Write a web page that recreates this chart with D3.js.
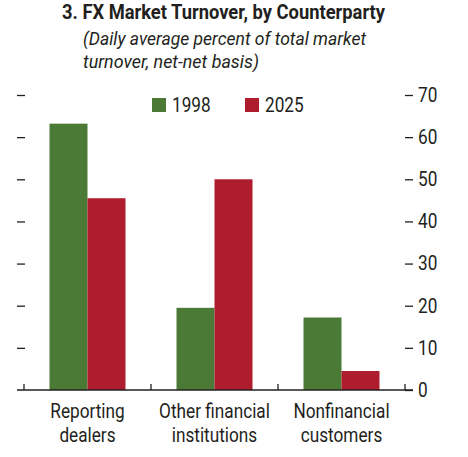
<!DOCTYPE html>
<html>
<head>
<meta charset="utf-8">
<script src="https://cdn.jsdelivr.net/npm/d3@7"></script>
<style>
  body { margin: 0; background: #fff; }
  text { font-family: Roboto, "Noto Sans", sans-serif; fill: #231f20; }
</style>
</head>
<body>
<div id="chart"></div>
<script>
// Data
const categories = ['Reporting dealers', 'Other financial institutions', 'Nonfinancial customers'];
const categoryLines = [['Reporting', 'dealers'], ['Other financial', 'institutions'], ['Nonfinancial', 'customers']];
const seriesNames = ['1998', '2025'];
const values1998 = [63.2, 19.5, 17.2];
const values2025 = [45.5, 50.0, 4.5];
const yTicks = [0, 10, 20, 30, 40, 50, 60, 70];

const colors = ['#4b7a37', '#ad1d2d'];
const width = 468;
const height = 457;
const margin = { top: 95, left: 24, bottom: 67, right: 63 };

// The source uses a condensed face; squeeze a normal one to fit
const squeeze = (sel, k) => sel.each(function () {
  const len = this.getComputedTextLength();
  d3.select(this).attr('textLength', len * k).attr('lengthAdjust', 'spacingAndGlyphs');
});

const svg = d3.select('#chart')
  .append('svg')
    .attr('width', width)
    .attr('height', height);

// Scales
const xScale = d3.scaleBand()
  .domain(categories)
  .range([margin.left, width - margin.right]);

const innerPad = 25.5;
const xSub = d3.scaleBand()
  .domain(seriesNames)
  .range([innerPad, xScale.bandwidth() - innerPad]);

const yScale = d3.scaleLinear()
  .domain([0, 70])
  .range([height - margin.bottom, margin.top]);

// Title
svg.append('text')
  .attr('x', 62)
  .attr('y', 19)
  .attr('textLength', 323)
  .attr('lengthAdjust', 'spacingAndGlyphs')
  .style('font-size', '20px')
  .style('font-weight', 'bold')
  .text('3. FX Market Turnover, by Counterparty');

svg.append('text')
  .attr('x', 83)
  .attr('y', 45)
  .attr('textLength', 283)
  .attr('lengthAdjust', 'spacingAndGlyphs')
  .style('font-size', '18px')
  .style('font-style', 'italic')
  .text('(Daily average percent of total market');
svg.append('text')
  .attr('x', 83)
  .attr('y', 68)
  .attr('textLength', 176)
  .attr('lengthAdjust', 'spacingAndGlyphs')
  .style('font-size', '18px')
  .style('font-style', 'italic')
  .text('turnover, net-net basis)');

// Bars
const rows = categories.map((c, i) => ({ cat: c, vals: [values1998[i], values2025[i]] }));

const groups = svg.selectAll('g.group')
  .data(rows)
  .join('g')
    .attr('class', 'group')
    .attr('transform', (d) => `translate(${xScale(d.cat)},0)`);

groups.selectAll('rect')
  .data((d) => d.vals.map((v, j) => ({ name: seriesNames[j], value: v, j })))
  .join('rect')
    .attr('x', (d) => xSub(d.name))
    .attr('y', (d) => yScale(d.value))
    .attr('width', xSub.bandwidth())
    .attr('height', (d) => yScale(0) - yScale(d.value))
    .style('fill', (d) => colors[d.j]);

// Right axis
const yRight = svg.append('g')
  .attr('transform', `translate(${width - margin.right},0)`)
  .call(d3.axisRight(yScale).tickValues(yTicks).tickSize(8).tickPadding(5));
yRight.select('.domain').remove();
yRight.selectAll('line').attr('stroke', '#231f20').attr('stroke-width', 1.3);
yRight.selectAll('text')
  .style('font-size', '20px')
  .attr('font-family', null)
  .attr('fill', null)
  .call(squeeze, 0.86);

// Left ticks (no labels)
const yLeft = svg.append('g')
  .attr('transform', `translate(${margin.left + 1},0)`)
  .call(d3.axisLeft(yScale).tickValues(yTicks.slice(1)).tickSize(8).tickFormat(''));
yLeft.select('.domain').remove();
yLeft.selectAll('line').attr('stroke', '#231f20').attr('stroke-width', 1.3);

// X axis
const baseY = yScale(0);
svg.append('line')
  .attr('x1', 17)
  .attr('x2', width - margin.right + 8)
  .attr('y1', baseY)
  .attr('y2', baseY)
  .attr('stroke', '#231f20')
  .attr('stroke-width', 1.3);

const edges = categories.map((c) => xScale(c)).concat([xScale(categories[categories.length - 1]) + xScale.bandwidth()]);
svg.selectAll('line.xtick')
  .data(edges)
  .join('line')
    .attr('class', 'xtick')
    .attr('x1', (d) => d)
    .attr('x2', (d) => d)
    .attr('y1', baseY)
    .attr('y2', baseY - 6)
    .attr('stroke', '#231f20')
    .attr('stroke-width', 1.3);

// X labels
categories.forEach((c, i) => {
  const cx = xScale(c) + xScale.bandwidth() / 2;
  categoryLines[i].forEach((line, k) => {
    svg.append('text')
      .attr('class', 'xlab')
      .attr('x', cx)
      .attr('y', 418 + k * 24)
      .attr('text-anchor', 'middle')
      .style('font-size', '20px')
      .text(line);
  });
});
squeeze(svg.selectAll('text.xlab'), 0.86);

// Legend
const legendX = [152, 245];
const legend = svg.selectAll('g.legend')
  .data(seriesNames)
  .join('g')
    .attr('class', 'legend')
    .attr('transform', (d, i) => `translate(${legendX[i]},98)`);
legend.append('rect')
  .attr('width', 14)
  .attr('height', 14)
  .style('fill', (d, i) => colors[i]);
legend.append('text')
  .attr('x', 20)
  .attr('y', 14)
  .style('font-size', '20px')
  .text((d) => d)
  .call(squeeze, 0.86);
</script>
</body>
</html>
